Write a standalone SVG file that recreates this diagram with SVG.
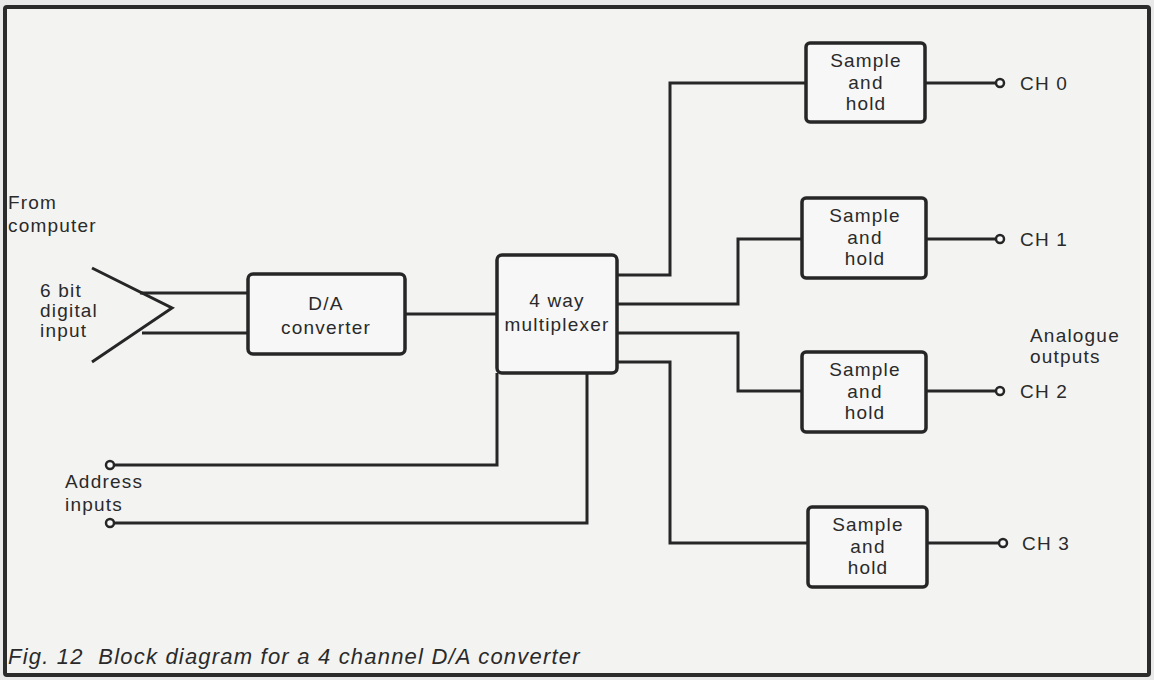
<svg xmlns="http://www.w3.org/2000/svg" width="1154" height="680" viewBox="0 0 1154 680">
<style>
text{font-family:"Liberation Sans",Arial,sans-serif;font-size:19px;letter-spacing:1.2px;fill:#2a2a2a}
.c{text-anchor:middle}
.box{fill:#f7f7f7;stroke:#262626;stroke-width:3.5}
.w{fill:none;stroke:#262626;stroke-width:3;stroke-linejoin:miter}
.t{fill:#fafafa;stroke:#262626;stroke-width:2.5}
.cap{font-style:italic;font-size:22px;letter-spacing:1.2px;white-space:pre}
</style>
<rect x="0" y="0" width="1154" height="680" fill="#e9e9e9"/>
<rect x="5" y="7" width="1144" height="668" rx="2" fill="#f3f3f2" stroke="#2b2b2b" stroke-width="4"/>

<g id="connectors">
<path class="w" d="M92 268 L172 308 L92 362"/>
<path class="w" d="M140 293 H248"/>
<path class="w" d="M142 333 H248"/>
<path class="w" d="M405 314 H497"/>
<path class="w" d="M617 275 H670 V83 H806"/>
<path class="w" d="M617 304 H738 V239 H802"/>
<path class="w" d="M617 333 H738 V391 H802"/>
<path class="w" d="M617 362 H670 V543 H808"/>
<path class="w" d="M925 83 H996"/>
<path class="w" d="M926 239 H996"/>
<path class="w" d="M926 391 H996"/>
<path class="w" d="M927 543 H999"/>
<path class="w" d="M114 465 H497 V373"/>
<path class="w" d="M114 523 H587 V373"/>
<circle class="t" cx="1000" cy="83" r="4"/>
<circle class="t" cx="1000" cy="239" r="4"/>
<circle class="t" cx="1000" cy="391" r="4"/>
<circle class="t" cx="1003" cy="543" r="4"/>
<circle class="t" cx="110" cy="465" r="4"/>
<circle class="t" cx="110" cy="523" r="4"/>
</g>

<g id="labels">
<text x="8" y="209">From</text>
<text x="8" y="232">computer</text>
<text x="40" y="297">6 bit</text>
<text x="40" y="317">digital</text>
<text x="40" y="337">input</text>
<text x="65" y="488">Address</text>
<text x="65" y="511">inputs</text>
<text x="1030" y="342">Analogue</text>
<text x="1030" y="363">outputs</text>
<text x="1020" y="90">CH 0</text>
<text x="1020" y="246">CH 1</text>
<text x="1020" y="398">CH 2</text>
<text x="1022" y="550">CH 3</text>
<text class="cap" x="8" y="664">Fig. 12  Block diagram for a 4 channel D/A converter</text>
</g>

<g id="da">
<rect class="box" x="248" y="274" width="157" height="80" rx="5"/>
<text class="c" x="326" y="310">D/A</text>
<text class="c" x="326" y="334">converter</text>
</g>
<g id="mux">
<rect class="box" x="497" y="255" width="120" height="118" rx="5"/>
<text class="c" x="557" y="307">4 way</text>
<text class="c" x="557" y="331">multiplexer</text>
</g>
<g id="sh0">
<rect class="box" x="806" y="43" width="119" height="79" rx="4"/>
<text class="c" x="866" y="67">Sample</text>
<text class="c" x="866" y="89">and</text>
<text class="c" x="866" y="110">hold</text>
</g>
<g id="sh1">
<rect class="box" x="802" y="198" width="124" height="80" rx="4"/>
<text class="c" x="865" y="222">Sample</text>
<text class="c" x="865" y="244">and</text>
<text class="c" x="865" y="265">hold</text>
</g>
<g id="sh2">
<rect class="box" x="802" y="352" width="124" height="80" rx="4"/>
<text class="c" x="865" y="376">Sample</text>
<text class="c" x="865" y="398">and</text>
<text class="c" x="865" y="419">hold</text>
</g>
<g id="sh3">
<rect class="box" x="808" y="507" width="119" height="80" rx="4"/>
<text class="c" x="868" y="531">Sample</text>
<text class="c" x="868" y="553">and</text>
<text class="c" x="868" y="574">hold</text>
</g>
</svg>
